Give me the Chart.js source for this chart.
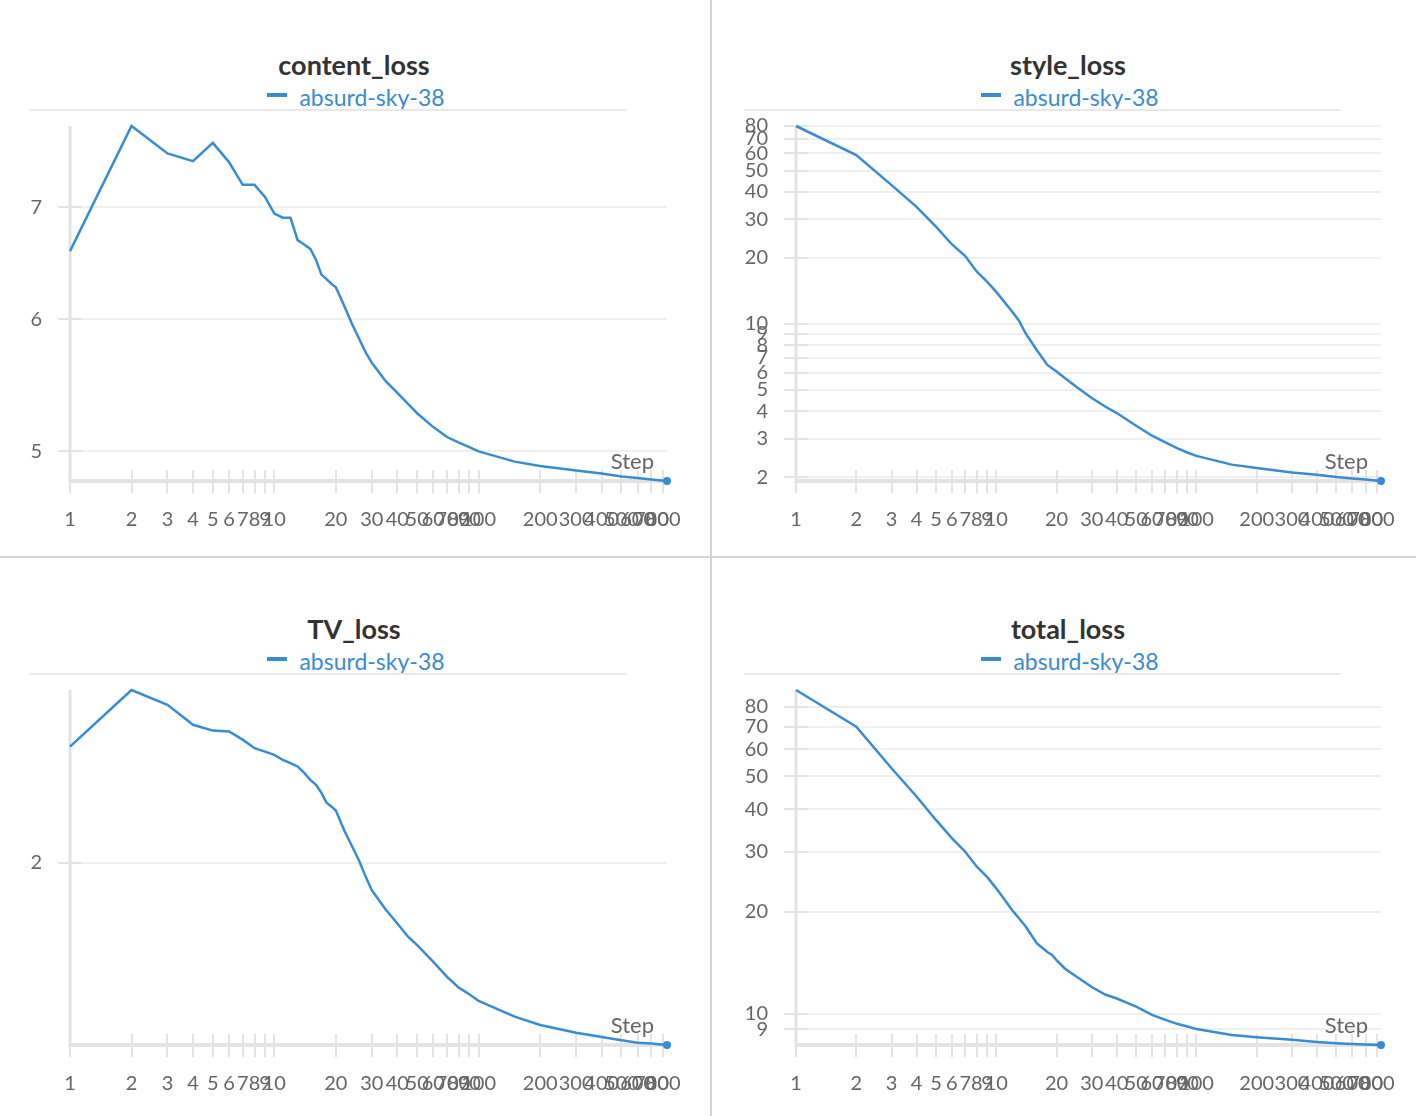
<!DOCTYPE html>
<html>
<head>
<meta charset="utf-8">
<script src="https://cdn.jsdelivr.net/npm/chart.js@4.4.1/dist/chart.umd.min.js"></script>
<style>
  html,body{margin:0;padding:0;background:#fff;}
  body{width:1416px;height:1116px;position:relative;overflow:hidden;font-family:Lato,"Noto Sans",sans-serif;}
  .panel{position:absolute;width:702px;height:556px;}
  .panel canvas{position:absolute;left:0;top:0;}
  .title{position:absolute;left:0;top:48px;width:708px;text-align:center;font-weight:bold;font-size:27px;line-height:34px;color:#333;}
  .legend{position:absolute;left:0;top:83px;width:712px;display:flex;justify-content:center;align-items:center;font-size:23px;line-height:28px;color:#3a8bd2;}
  .legend .mk{display:inline-block;width:20px;height:4px;background:#3a8bd2;margin-right:12px;margin-top:-4px;}
  .rule{position:absolute;left:30px;top:109px;width:596px;height:2px;background:#e8e8e8;}
  .vsep{position:absolute;left:710px;top:0;width:2px;height:1116px;background:#d4d4d4;}
  .hsep{position:absolute;left:0;top:556px;width:1416px;height:2px;background:#d4d4d4;}
</style>
</head>
<body>
<div class="vsep"></div>
<div class="hsep"></div>

<div class="panel" style="left:0;top:0"><div class="title">content_loss</div><div class="legend"><span class="mk"></span>absurd-sky-38</div><div class="rule"></div><canvas id="c1" width="702" height="556"></canvas></div>
<div class="panel" style="left:714px;top:0"><div class="title">style_loss</div><div class="legend"><span class="mk"></span>absurd-sky-38</div><div class="rule"></div><canvas id="c2" width="702" height="556"></canvas></div>
<div class="panel" style="left:0;top:564px"><div class="title">TV_loss</div><div class="legend"><span class="mk"></span>absurd-sky-38</div><div class="rule"></div><canvas id="c3" width="702" height="556"></canvas></div>
<div class="panel" style="left:714px;top:564px"><div class="title">total_loss</div><div class="legend"><span class="mk"></span>absurd-sky-38</div><div class="rule"></div><canvas id="c4" width="702" height="556"></canvas></div>

<script>
// ---------- data ----------
const runName = "absurd-sky-38";
const xTickValues = [1,2,3,4,5,6,7,8,9,10,20,30,40,50,60,70,80,90,100,200,300,400,500,600,700,800];
const lastStep = 835;

const contentSteps  = [1,2,3,4,5,6,7,8,9,10,11,12,13,14,15,16,17,18,19,20,22,24,26,28,30,35,40,45,50,60,70,80,90,100,150,200,300,400,500,600,700,835];
const contentValues = [6.59,7.83,7.54,7.46,7.65,7.45,7.22,7.22,7.10,6.94,6.90,6.90,6.69,6.65,6.61,6.51,6.38,6.34,6.30,6.27,6.11,5.96,5.84,5.73,5.65,5.51,5.42,5.34,5.27,5.17,5.10,5.06,5.03,5.00,4.93,4.90,4.87,4.85,4.83,4.82,4.81,4.80];
const contentYTicks = [5,6,7];

const styleSteps  = [1,2,3,4,5,6,7,8,9,10,12,13,14,16,18,20,22,25,30,35,40,50,60,70,80,90,100,150,200,300,400,500,600,700,835];
const styleValues = [80,58.9,43.0,34.2,27.8,23.1,20.4,17.3,15.6,14.0,11.4,10.35,9.07,7.56,6.50,6.06,5.66,5.18,4.59,4.20,3.92,3.43,3.09,2.88,2.71,2.59,2.50,2.28,2.20,2.10,2.05,2.00,1.97,1.95,1.92];
const styleYTicks = [2,3,4,5,6,7,8,9,10,20,30,40,50,60,70,80];

const tvSteps  = [1,2,3,4,5,6,7,8,9,10,11,12,13,14,15,16,17,18,19,20,22,24,26,28,30,35,40,45,50,60,70,80,90,100,150,200,300,400,500,600,700,835];
const tvValues = [2.34,2.526,2.476,2.41,2.391,2.388,2.362,2.335,2.324,2.314,2.298,2.288,2.278,2.258,2.237,2.222,2.198,2.169,2.158,2.146,2.089,2.045,2.005,1.962,1.927,1.878,1.842,1.810,1.789,1.749,1.714,1.689,1.674,1.659,1.624,1.606,1.589,1.580,1.573,1.568,1.566,1.563];
const tvYTicks = [2];

const totalSteps  = [1,2,3,4,5,6,7,8,9,10,12,14,16,18,19,20,22,25,30,35,40,50,60,70,80,90,100,150,200,300,400,500,600,700,835];
const totalValues = [89.7,70.0,52.8,43.6,37.2,32.9,30.0,27.1,25.3,23.4,20.2,18.1,16.1,15.2,14.9,14.4,13.6,12.9,12.0,11.4,11.1,10.5,9.93,9.60,9.35,9.18,9.03,8.67,8.54,8.39,8.27,8.20,8.16,8.13,8.10];
const totalYTicks = [9,10,20,30,40,50,60,70,80];

// ---------- styling ----------
const LINE = '#3a8bd2';
const FONT = 'Lato';
const AXIS = '#e3e3e3';

const wandbAxes = {
  id: 'wandbAxes',
  beforeDatasetsDraw(chart) {
    const {ctx, chartArea, scales} = chart;
    const {left, right, top, bottom} = chartArea;
    const x = scales.x, y = scales.y;
    ctx.save();
    ctx.strokeStyle = AXIS;
    ctx.lineWidth = 2;
    y.ticks.forEach(t => {
      const py = Math.round(y.getPixelForValue(t.value));
      ctx.beginPath(); ctx.moveTo(left, py); ctx.lineTo(left + 12, py); ctx.stroke();
    });
    x.ticks.forEach(t => {
      const px = Math.round(x.getPixelForValue(t.value));
      ctx.beginPath(); ctx.moveTo(px, bottom - 11); ctx.lineTo(px, bottom + 12); ctx.stroke();
    });
    ctx.lineWidth = 3;
    ctx.beginPath(); ctx.moveTo(left, top); ctx.lineTo(left, bottom + 2); ctx.stroke();
    ctx.lineWidth = 4;
    ctx.beginPath(); ctx.moveTo(left, bottom); ctx.lineTo(right, bottom); ctx.stroke();
    ctx.fillStyle = '#666';
    ctx.font = '22px ' + FONT;
    ctx.textAlign = 'right';
    ctx.textBaseline = 'middle';
    ctx.fillText('Step', right - 13, bottom - 19);
    ctx.restore();
  }
};

function makeChart(id, steps, values, yTicks, yAxisWidth) {
  const pts = steps.map((s, i) => ({x: s, y: values[i]}));
  const last = pts.length - 1;
  return new Chart(document.getElementById(id), {
    type: 'line',
    data: {
      datasets: [{
        label: runName,
        data: pts,
        borderColor: LINE,
        backgroundColor: LINE,
        borderWidth: 2.5,
        tension: 0,
        clip: false,
        pointRadius: ctx => ctx.dataIndex === last ? 4 : 0,
        pointBorderWidth: 0,
        pointBackgroundColor: LINE,
        pointHoverRadius: 0
      }]
    },
    options: {
      responsive: false,
      animation: false,
      devicePixelRatio: 1,
      layout: {padding: {top: 126, left: 0, right: 35, bottom: 0}},
      plugins: {legend: {display: false}, title: {display: false}, tooltip: {enabled: false}},
      scales: {
        x: {
          type: 'logarithmic',
          min: 1,
          max: lastStep,
          afterBuildTicks: s => { s.ticks = xTickValues.map(v => ({value: v})); },
          afterFit: s => { s.height = 75; },
          grid: {display: false},
          border: {display: false},
          ticks: {
            autoSkip: false, maxRotation: 0, minRotation: 0, padding: 19,
            color: '#666', font: {family: FONT, size: 20},
            callback: v => String(v)
          }
        },
        y: {
          type: 'logarithmic',
          min: Math.min(...values),
          max: Math.max(...values),
          afterBuildTicks: s => { s.ticks = yTicks.map(v => ({value: v})); },
          afterFit: s => { s.width = yAxisWidth; },
          grid: {color: '#efefef', lineWidth: 2, tickLength: 12, drawTicks: true, tickColor: AXIS},
          border: {display: false},
          ticks: {
            autoSkip: false, padding: 16,
            color: '#666', font: {family: FONT, size: 20},
            callback: v => String(v)
          }
        }
      }
    },
    plugins: [wandbAxes]
  });
}

makeChart('c1', contentSteps, contentValues, contentYTicks, 70);
makeChart('c2', styleSteps, styleValues, styleYTicks, 82);
makeChart('c3', tvSteps, tvValues, tvYTicks, 70);
makeChart('c4', totalSteps, totalValues, totalYTicks, 82);
</script>
</body>
</html>
